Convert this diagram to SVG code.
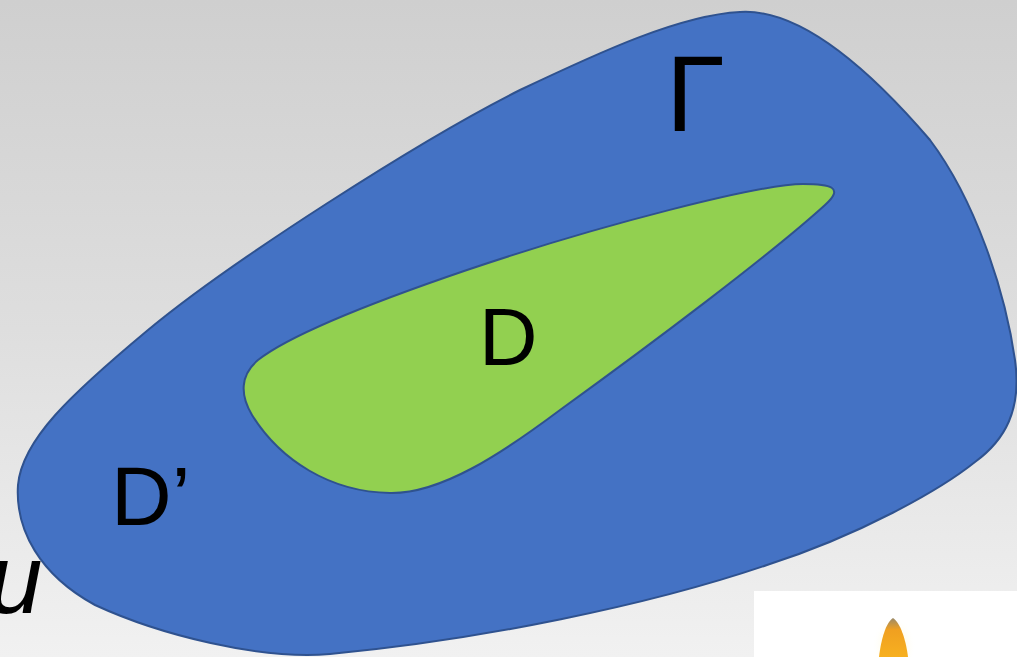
<svg xmlns="http://www.w3.org/2000/svg" width="1017" height="657" viewBox="0 0 1017 657">
<defs>
<linearGradient id="bg" x1="0" y1="0" x2="0" y2="1">
<stop offset="0" stop-color="#cfcfcf"/>
<stop offset="0.5" stop-color="#dedede"/>
<stop offset="1" stop-color="#f1f1f1"/>
</linearGradient>
<linearGradient id="flame" x1="0" y1="0" x2="0" y2="1">
<stop offset="0" stop-color="#9a8a6a"/>
<stop offset="0.3" stop-color="#f0a020"/>
<stop offset="1" stop-color="#f7b020"/>
</linearGradient>
<radialGradient id="glow" cx="0.5" cy="0.6" r="0.5">
<stop offset="0" stop-color="#fff3b0" stop-opacity="0.9"/>
<stop offset="1" stop-color="#ffffff" stop-opacity="0"/>
</radialGradient>
</defs>
<style>
.region{stroke:#2f528f;stroke-width:2}
.lbl{font-family:"Liberation Sans",Arial,sans-serif;fill:#000}
</style>
<rect width="1017" height="657" fill="url(#bg)"/>
<g id="picture">
<rect x="754" y="591" width="263" height="66" fill="#ffffff"/>
<ellipse cx="894" cy="640" rx="22" ry="30" fill="url(#glow)"/>
<path d="M893,618 C900,622 906,640 908,657 L879,657 C881,640 886,622 893,618 Z" fill="url(#flame)"/>
</g>
<g id="node-Dprime">
<path class="region" fill="#4472c4" d="M740,12 C800,8 870,70 930,140 C975,200 1005,290 1015,360 C1022,410 1005,440 975,462 C940,490 860,535 767,565 C650,605 480,640 330,654 C260,660 160,635 95,605 C40,575 15,530 18,485 C22,440 70,395 148,330 C230,262 420,140 520,90 C600,52 680,15 740,12 Z"/>
<text class="lbl" x="111" y="525" font-size="84">D’</text>
</g>
<g id="node-D">
<path class="region" fill="#92d050" d="M803,184 C760,184 600,225 467,270 C370,303 290,335 258,360 C240,375 240,395 252,415 C280,460 330,492 390,493 C440,494 500,455 560,410 C650,345 770,255 825,205 C845,187 830,184 803,184 Z"/>
<text class="lbl" x="479" y="365" font-size="81">D</text>
</g>
<g id="label-Gamma">
<text class="lbl" x="666" y="131" font-size="107">Γ</text>
</g>
<g id="label-u">
<text class="lbl" x="-12" y="613" font-size="98" font-style="italic">u</text>
</g>
<g id="connectors"/>
</svg>
